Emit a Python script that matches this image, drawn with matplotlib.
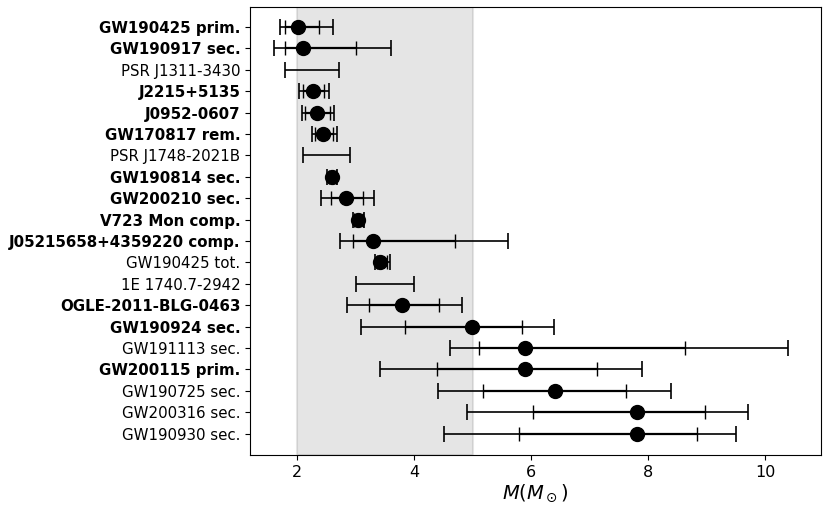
import numpy as np
import matplotlib
matplotlib.use("Agg")
import matplotlib.pyplot as plt

names = ["GW190425 prim.", "GW190917 sec.", "PSR J1311-3430", "J2215+5135", "J0952-0607",
         "GW170817 rem.", "PSR J1748-2021B", "GW190814 sec.", "GW200210 sec.", "V723 Mon comp.",
         "J05215658+4359220 comp.", "GW190425 tot.", "1E 1740.7-2942", "OGLE-2011-BLG-0463",
         "GW190924 sec.", "GW191113 sec.", "GW200115 prim.", "GW190725 sec.", "GW200316 sec.",
         "GW190930 sec."]
bold = [True, True, False, True, True, True, False, True, True, True,
        True, False, False, True, True, False, True, False, False, False]
nan = np.nan
center = [2.01, 2.10, nan, 2.27, 2.35, 2.45, nan, 2.59, 2.83, 3.04,
          3.30, 3.41, nan, 3.79, 4.99, 5.89, 5.89, 6.40, 7.80, 7.80]
outer_lo = [1.71, 1.61, 1.80, 2.03, 2.08, 2.25, 2.10, 2.51, 2.41, 2.95,
            2.74, 3.33, 3.00, 2.86, 3.10, 4.61, 3.41, 4.41, 4.90, 4.51]
outer_hi = [2.61, 3.60, 2.71, 2.55, 2.64, 2.69, 2.91, 2.69, 3.32, 3.15,
            5.60, 3.59, 4.00, 4.81, 6.39, 10.38, 7.89, 8.39, 9.70, 9.50]
inner_lo = [1.79, 1.80, nan, 2.10, 2.14, 2.31, nan, 2.54, 2.58, 2.98,
            2.96, 3.37, nan, 3.23, 3.84, 5.11, 4.39, 5.18, 6.03, 5.79]
inner_hi = [2.38, 3.01, nan, 2.47, 2.56, 2.62, nan, 2.67, 3.13, 3.12,
            4.70, 3.53, nan, 4.42, 5.85, 8.63, 7.12, 7.62, 8.96, 8.84]

fig = plt.figure(figsize=(8.31, 5.09), dpi=100)
ax = fig.add_axes([0.301, 0.106, 0.687, 0.880])

y = np.arange(len(names))
ax.axvspan(2, 5, color="gray", alpha=0.2, lw=1.5)

olo = np.array(outer_lo); ohi = np.array(outer_hi)
mid = (olo + ohi) / 2
ax.errorbar(mid, y, xerr=[mid - olo, ohi - mid], fmt="none", ecolor="black",
            elinewidth=1.2, capsize=6, capthick=1.2, zorder=3)
ilo = np.array(inner_lo); ihi = np.array(inner_hi)
m = ~np.isnan(ilo)
imid = (ilo + ihi) / 2
ax.errorbar(imid[m], y[m], xerr=[(imid - ilo)[m], (ihi - imid)[m]], fmt="none",
            ecolor="black", elinewidth=1.6, capsize=5, capthick=1.0, zorder=3)
c = np.array(center)
mc = ~np.isnan(c)
ax.plot(c[mc], y[mc], "o", color="black", ms=10, zorder=4)

ax.set_yticks(y)
ax.set_yticklabels(names, fontsize=10.8)
for lab, b in zip(ax.get_yticklabels(), bold):
    if b:
        lab.set_fontweight("bold")
ax.set_xticks([2, 4, 6, 8, 10])
ax.tick_params(axis="x", labelsize=11.5)
ax.set_xlim(1.2, 10.95)
ax.set_ylim(20.0, -0.93)
ax.set_xlabel(r"$M(M_\odot)$", fontsize=14, labelpad=2)

fig.savefig("out.png", dpi=100)
